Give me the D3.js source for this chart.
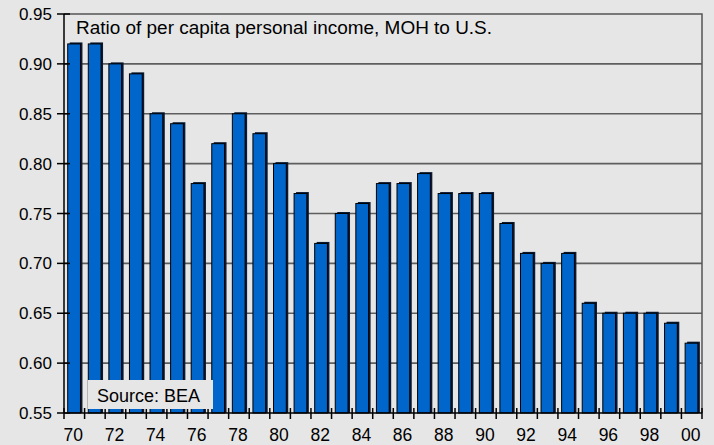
<!DOCTYPE html>
<html>
<head>
<meta charset="utf-8">
<script src="https://cdn.jsdelivr.net/npm/d3@7.9.0/dist/d3.min.js"></script>
<style>
  html, body { margin: 0; padding: 0; background: #e6e6e6; }
  svg { display: block; font-family: "Liberation Sans", Arial, sans-serif; }
</style>
</head>
<body>
<div id="chart"></div>
<script>
// years and the MOH / U.S. income ratio
const years = ['70','71','72','73','74','75','76','77','78','79','80','81','82','83','84','85',
  '86','87','88','89','90','91','92','93','94','95','96','97','98','99','00'];
const ratios = [0.92, 0.92, 0.90, 0.89, 0.85, 0.84, 0.78, 0.82, 0.85, 0.83, 0.80, 0.77, 0.72, 0.75,
  0.76, 0.78, 0.78, 0.79, 0.77, 0.77, 0.77, 0.74, 0.71, 0.70, 0.71, 0.66, 0.65, 0.65, 0.65, 0.64, 0.62];
const yTicks = [0.55, 0.60, 0.65, 0.70, 0.75, 0.80, 0.85, 0.90, 0.95];
const xLabels = ['70','72','74','76','78','80','82','84','86','88','90','92','94','96','98','00'];

const width = 714;
const height = 445;
const margin = { top: 14, right: 12, bottom: 32, left: 64 };
const area = {
  left: margin.left,
  right: width - margin.right,
  top: margin.top,
  bottom: height - margin.bottom,
};

const svg = d3.select('#chart')
  .append('svg')
  .attr('width', width)
  .attr('height', height);

svg.append('rect')
  .attr('width', width)
  .attr('height', height)
  .attr('fill', '#e6e6e6');

const xScale = d3.scaleBand()
  .domain(years)
  .range([area.left, area.right])
  .paddingInner(0)
  .paddingOuter(0);

const yScale = d3.scaleLinear()
  .domain([0.55, 0.95])
  .range([area.bottom, area.top]);

// gridlines
svg.append('g')
  .selectAll('line')
  .data(yTicks.slice(1, -1))
  .join('line')
  .attr('x1', area.left)
  .attr('x2', area.right)
  .attr('y1', (d) => yScale(d))
  .attr('y2', (d) => yScale(d))
  .attr('stroke', '#5e5e5e')
  .attr('stroke-width', 1.6);

// frame (top + right)
svg.append('path')
  .attr('d', `M${area.left},${area.top}H${area.right}V${area.bottom}`)
  .attr('fill', 'none')
  .attr('stroke', '#555')
  .attr('stroke-width', 1.5);

// bars with a little 3d side
const bw = xScale.bandwidth();
const barW = bw * 0.62;
const off = bw * 0.18;
const bars = svg.append('g').selectAll('g')
  .data(years.map((y, i) => ({ year: y, value: ratios[i] })))
  .join('g');

bars.append('rect')
  .attr('x', (d) => xScale(d.year) + off + 2)
  .attr('y', (d) => yScale(d.value) - 1.5)
  .attr('width', barW)
  .attr('height', (d) => area.bottom - yScale(d.value) + 1.5)
  .attr('fill', '#0a1a33');

bars.append('rect')
  .attr('x', (d) => xScale(d.year) + off)
  .attr('y', (d) => yScale(d.value))
  .attr('width', barW)
  .attr('height', (d) => area.bottom - yScale(d.value))
  .attr('fill', '#0066cc')
  .attr('stroke', '#000')
  .attr('stroke-width', 1);

// y axis
const yAxis = svg.append('g');
yAxis.append('line')
  .attr('x1', area.left).attr('x2', area.left)
  .attr('y1', area.top).attr('y2', area.bottom)
  .attr('stroke', '#000').attr('stroke-width', 1.5);
yAxis.selectAll('line.tick')
  .data(yTicks)
  .join('line')
  .attr('class', 'tick')
  .attr('x1', area.left - 7).attr('x2', area.left + 6)
  .attr('y1', (d) => yScale(d)).attr('y2', (d) => yScale(d))
  .attr('stroke', '#000').attr('stroke-width', 1.5);
yAxis.selectAll('text')
  .data(yTicks)
  .join('text')
  .attr('x', area.left - 12)
  .attr('y', (d) => yScale(d))
  .attr('dy', '0.36em')
  .attr('text-anchor', 'end')
  .attr('font-size', 17)
  .attr('fill', '#000')
  .text((d) => d.toFixed(2));

// x axis
const xAxis = svg.append('g');
xAxis.append('line')
  .attr('x1', area.left).attr('x2', area.right)
  .attr('y1', area.bottom).attr('y2', area.bottom)
  .attr('stroke', '#000').attr('stroke-width', 1.5);
xAxis.selectAll('line.tick')
  .data(years.concat(['end']))
  .join('line')
  .attr('class', 'tick')
  .attr('x1', (d) => d === 'end' ? area.right : xScale(d))
  .attr('x2', (d) => d === 'end' ? area.right : xScale(d))
  .attr('y1', area.bottom - 5).attr('y2', area.bottom + 6)
  .attr('stroke', '#000').attr('stroke-width', 1.5);
xAxis.selectAll('text')
  .data(xLabels)
  .join('text')
  .attr('x', (d) => xScale(d) + bw / 2 - 1)
  .attr('y', area.bottom + 28)
  .attr('text-anchor', 'middle')
  .attr('font-size', 17.5)
  .attr('fill', '#000')
  .text((d) => d);

// title
svg.append('text')
  .attr('x', 76)
  .attr('y', 34)
  .attr('font-size', 17.5)
  .attr('textLength', 416)
  .attr('lengthAdjust', 'spacingAndGlyphs')
  .attr('fill', '#000')
  .text('Ratio of per capita personal income, MOH to U.S.');

// source box
svg.append('rect')
  .attr('x', 88).attr('y', 380)
  .attr('width', 125).attr('height', 29)
  .attr('fill', '#e6e6e6');
svg.append('text')
  .attr('x', 97)
  .attr('y', 402)
  .attr('font-size', 18)
  .attr('fill', '#000')
  .text('Source: BEA');
</script>
</body>
</html>
